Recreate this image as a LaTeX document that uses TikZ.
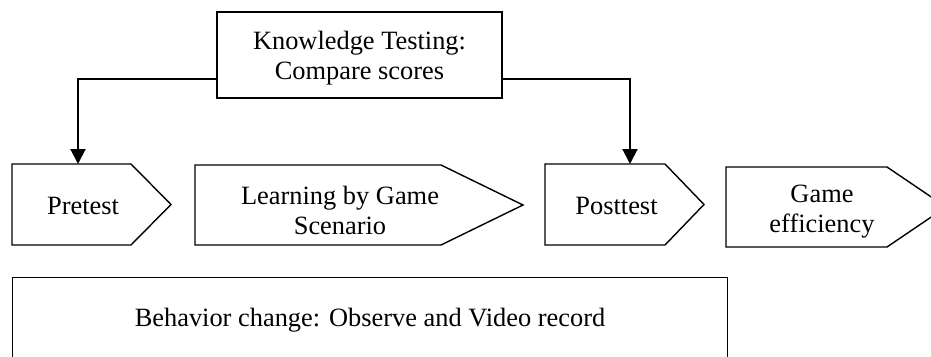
\documentclass[tikz,border=0pt]{standalone}
\usepackage{fontspec}
\setmainfont{Liberation Serif}
\usetikzlibrary{arrows.meta}

\begin{document}
\begin{tikzpicture}[x=1pt,y=-1pt,
  outline/.style={draw=black,line width=1.4pt,line join=miter},
  label/.style={inner sep=0pt,align=center,font=\fontsize{26.4}{30}\selectfont},
  link/.style={draw=black,line width=2pt,-{Triangle[width=15pt,length=15pt]}}]

  \path[use as bounding box] (0,0) rectangle (931,356);
  \clip (0,0) rectangle (931,356);

  % knowledge testing box
  \node[outline,minimum width=285pt,minimum height=86pt,inner sep=0pt] (know) at (359.5,55) {};
  \node[label] (knowtxt) at (359.5,58) {Knowledge Testing:\\Compare scores};

  % process chevrons
  \draw[outline] (12,164) -- (131,164) -- (171,204.5) -- (131,245) -- (12,245) -- cycle;
  \node[label] (pre) at (83,206) {Pretest};

  \draw[outline] (195,165) -- (441,165) -- (523,205) -- (441,245) -- (195,245) -- cycle;
  \node[label] (learn) at (340,210) {Learning by Game\\Scenario};

  \draw[outline] (545,164) -- (665,164) -- (704,204.5) -- (665,245) -- (545,245) -- cycle;
  \node[label] (post) at (616.5,206) {Posttest};

  \draw[outline] (726,167) -- (887,167) -- (946,207) -- (887,247) -- (726,247) -- cycle;
  \node[label] (eff) at (822,212) {Game\\efficiency};

  % behaviour observation box
  \node[outline,minimum width=715pt,minimum height=100pt,inner sep=0pt,anchor=north west] (behav) at (12,277) {};
  \node[label] (behavtxt) at (370,320) {Behavior change: Observe and Video record};

  % connectors from the testing box to pretest and posttest
  \coordinate (preTop) at (78,164);
  \coordinate (postTop) at (630,164);
  \draw[link] ([yshift=20pt]know.south west) -| (preTop);
  \draw[link] ([yshift=20pt]know.south east) -| (postTop);
\end{tikzpicture}
\end{document}
